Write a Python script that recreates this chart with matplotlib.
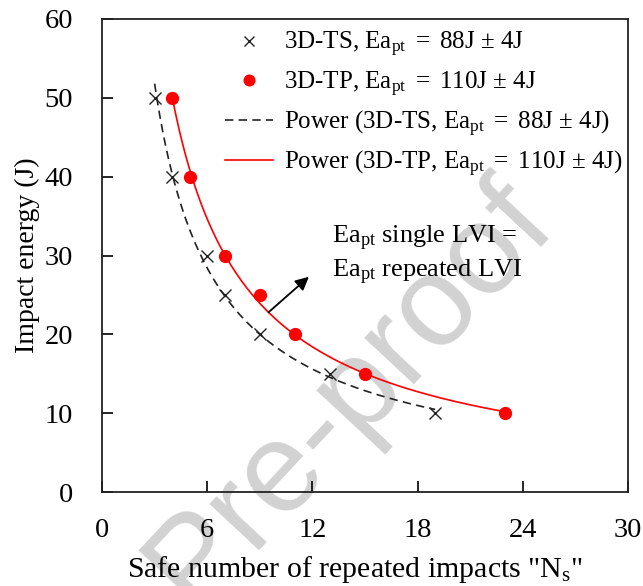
import numpy as np
import matplotlib
matplotlib.use("Agg")
import matplotlib.pyplot as plt

plt.rcParams["font.family"] = ["Liberation Serif", "DejaVu Serif"]
plt.rcParams["mathtext.fontset"] = "custom"
plt.rcParams["mathtext.rm"] = "Liberation Serif"
plt.rcParams["mathtext.it"] = "Liberation Serif:italic"
plt.rcParams["mathtext.bf"] = "Liberation Serif:bold"

# data
ts_n = [3, 4, 6, 7, 9, 13, 19]
ts_e = [50, 40, 30, 25, 20, 15, 10]
tp_n = [4, 5, 7, 9, 11, 15, 23]
tp_e = [50, 40, 30, 25, 20, 15, 10]

ts_label = r"3D-TS, Ea$_{\mathrm{pt}}$ $=$ 88J $\pm$ 4J"
tp_label = r"3D-TP, Ea$_{\mathrm{pt}}$ $=$ 110J $\pm$ 4J"
x_ticks = [0, 6, 12, 18, 24, 30]
y_ticks = [0, 10, 20, 30, 40, 50, 60]


def power_fit(x, y):
    # Excel-style power trendline: straight line in log-log space
    b, ln_a = np.polyfit(np.log(x), np.log(y), 1)
    xs = np.linspace(min(x), max(x), 200)
    return xs, np.exp(ln_a) * xs ** b


fig = plt.figure(figsize=(6.43, 5.86), dpi=100)
ax = fig.add_axes([102 / 643, 1 - 492 / 586, 526 / 643, 473 / 586])
ax.set_facecolor("none")

ax.plot(ts_n, ts_e, ls="none", marker="x", ms=8, mew=1.0, color="#222222",
        label=ts_label, zorder=4)
ax.plot(tp_n, tp_e, ls="none", marker="o", ms=8.5, color="#ff0000",
        label=tp_label, zorder=4)
xs, ys = power_fit(ts_n, ts_e)
ax.plot(xs, ys, ls=(0, (5, 3.2)), lw=1.2, color="#222222",
        label="Power (" + ts_label + ")", zorder=3)
xs, ys = power_fit(tp_n, tp_e)
ax.plot(xs, ys, ls="-", lw=1.2, color="#ff0000",
        label="Power (" + tp_label + ")", zorder=3)

ax.annotate("", xy=(11.8, 27.3), xytext=(9.5, 22.8),
            arrowprops=dict(arrowstyle="-|>", color="black", lw=1.3,
                            mutation_scale=20, shrinkA=0, shrinkB=0))
ax.text(13.1, 32.1, r"Ea$_{\mathrm{pt}}$ single LVI =", fontsize=19,
        va="center", ha="left")
ax.text(13.1, 27.9, r"Ea$_{\mathrm{pt}}$ repeated LVI", fontsize=19,
        va="center", ha="left")

ax.set_xlim(0, 30)
ax.set_ylim(0, 60)
ax.set_xticks(x_ticks)
ax.set_yticks(y_ticks)
ax.tick_params(direction="in", length=8, width=1.2, labelsize=20.5)
ax.tick_params(axis="x", pad=19)
ax.tick_params(axis="y", pad=21)
for s in ax.spines.values():
    s.set_linewidth(1.3)
    s.set_color("#222222")

ax.set_xlabel(r'Safe number of repeated impacts "N$_{\mathrm{s}}$"', fontsize=21.5)
ax.xaxis.set_label_coords(0.481, -0.132)
ax.set_ylabel("Impact energy (J)", fontsize=20, labelpad=3)

ax.legend(loc="upper left", bbox_to_anchor=(0.234, 0.976), frameon=False,
          fontsize=18, handlelength=1.9, handletextpad=0.45,
          labelspacing=0.4, borderpad=0, borderaxespad=0, markerscale=0.9)

fig.text(0.545, 0.328, "Pre-proof", fontsize=92, family="Liberation Sans",
         color="#d2d2d2", rotation=47, ha="center", va="center",
         rotation_mode="anchor", zorder=-1)

fig.savefig("out.png", dpi=100, facecolor="white")
